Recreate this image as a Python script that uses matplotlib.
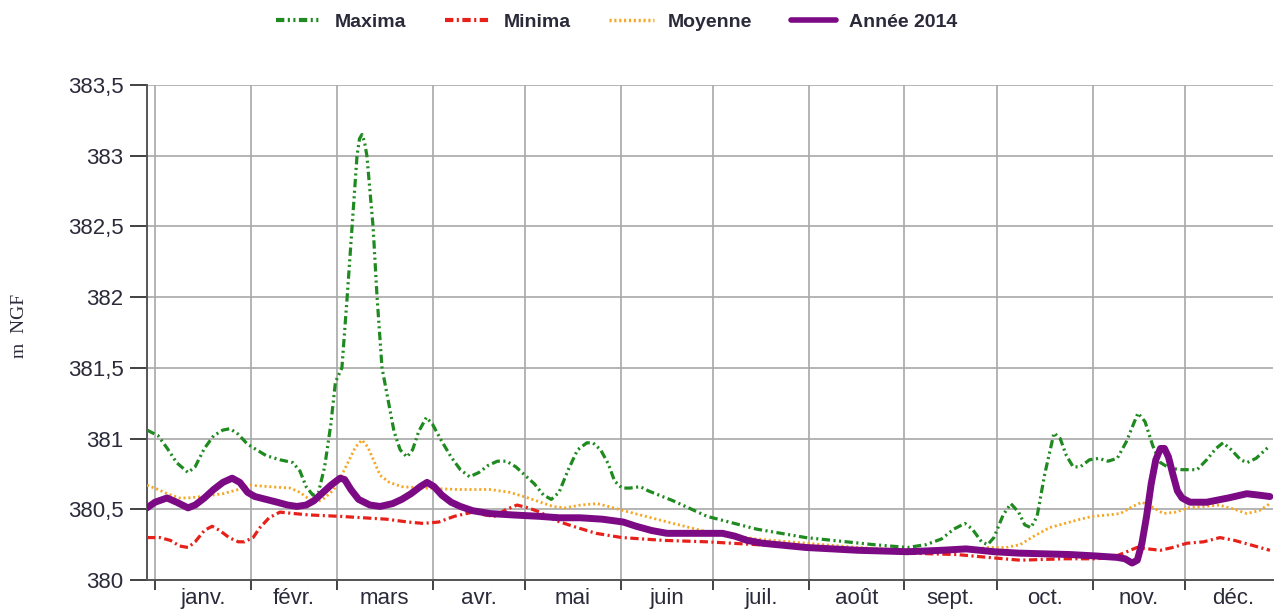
import numpy as np
import matplotlib
matplotlib.use("Agg")
from matplotlib import pyplot as plt

plt.rcParams['font.family'] = ['Liberation Sans', 'DejaVu Sans']
plt.rcParams['lines.scale_dashes'] = False

# day of year / level (m NGF)
max_days = [-2.6, 1, 4, 7, 10.7, 13, 16, 19, 22, 24.3, 27, 30, 33, 36, 40.5, 44.7, 47, 49,
            51.2, 53, 55, 57, 58.5, 60.6, 62.3, 63.9, 65.5, 66.3, 67.1, 67.9, 68.7, 70.7, 72,
            73.6, 75.6, 77.5, 79.5, 81.7, 83.5, 85.5, 88, 90, 93, 96, 99, 102, 105, 108, 111,
            114, 117, 120, 123, 126, 128.5, 131, 134, 137, 140, 142, 144.5, 147, 149, 151.4,
            154, 157.3, 160, 168, 179, 195, 211, 233, 244, 250, 255, 259, 262.6, 265, 268, 270,
            272, 275, 277.5, 280, 282, 284, 286, 288.5, 291.5, 293.5, 295.5, 297.7, 300, 303,
            306, 309, 312, 315, 318.7, 321, 323.5, 326, 329, 333, 337.9, 341, 344, 346.3, 349,
            352, 354.1, 357, 361.5]
max_vals = [381.06, 381.02, 380.93, 380.83, 380.76, 380.80, 380.93, 381.02, 381.06, 381.07,
            381.03, 380.96, 380.92, 380.88, 380.85, 380.83, 380.77, 380.66, 380.60, 380.62,
            380.80, 381.10, 381.40, 381.50, 382.0, 382.5, 383.0, 383.12, 383.15, 383.10, 383.0,
            382.5, 382.0, 381.5, 381.27, 381.05, 380.92, 380.87, 380.92, 381.05, 381.15,
            381.10, 380.98, 380.87, 380.78, 380.73, 380.76, 380.81, 380.84, 380.84, 380.80,
            380.74, 380.68, 380.60, 380.57, 380.62, 380.78, 380.92, 380.97, 380.97, 380.92,
            380.82, 380.70, 380.65, 380.65, 380.66, 380.63, 380.56, 380.45, 380.36, 380.30,
            380.25, 380.23, 380.25, 380.29, 380.36, 380.40, 380.36, 380.27, 380.25, 380.30,
            380.46, 380.54, 380.48, 380.39, 380.37, 380.45, 380.75, 381.04, 381.00, 380.88,
            380.80, 380.80, 380.85, 380.86, 380.84, 380.86, 380.98, 381.18, 381.12, 380.95,
            380.83, 380.79, 380.78, 380.78, 380.85, 380.93, 380.97, 380.92, 380.85, 380.83,
            380.86, 380.95]

min_days = [-2.6, 1.6, 5, 8, 10.7, 13, 16, 18.5, 21, 24, 27, 29, 31.8, 34, 37, 40.5, 45, 50,
            60, 75, 82, 87, 92, 97, 103, 107, 110, 114, 117.4, 121, 124.8, 130, 135.5, 143,
            151.4, 165, 179, 195, 211, 228, 244, 260, 270, 280.5, 295, 305, 310.6, 314, 318.4,
            322, 325.9, 330, 334.6, 340, 345.3, 350, 355, 361.5]
min_vals = [380.30, 380.30, 380.28, 380.24, 380.23, 380.27, 380.35, 380.38, 380.35, 380.30,
            380.27, 380.27, 380.30, 380.37, 380.44, 380.48, 380.47, 380.46, 380.45, 380.43,
            380.41, 380.40, 380.41, 380.45, 380.48, 380.46, 380.45, 380.50, 380.53, 380.51,
            380.48, 380.42, 380.38, 380.33, 380.30, 380.28, 380.27, 380.25, 380.23, 380.21,
            380.19, 380.18, 380.16, 380.14, 380.15, 380.15, 380.16, 380.19, 380.23, 380.22,
            380.21, 380.23, 380.26, 380.27, 380.30, 380.28, 380.25, 380.21]

moy_days = [-2.6, 1, 4, 8, 10.7, 15, 22, 27, 30.8, 37, 43.8, 47, 50, 52.5, 55, 58, 60.5, 63,
            65, 67.1, 69, 71, 73, 76, 80, 87, 98, 108.6, 115, 121, 125, 129, 133, 138, 143.3,
            147, 152, 157.3, 168, 179, 195, 211, 228, 244, 255, 262, 270, 276, 280.5, 285, 290,
            295, 300, 304, 309, 313, 317, 320, 323, 327, 331, 335, 340, 345, 350, 354, 358,
            361.5]
moy_vals = [380.67, 380.64, 380.61, 380.58, 380.58, 380.59, 380.61, 380.64, 380.67, 380.66,
            380.65, 380.62, 380.57, 380.55, 380.58, 380.64, 380.74, 380.85, 380.94, 380.99,
            380.94, 380.84, 380.74, 380.69, 380.66, 380.65, 380.64, 380.64, 380.62, 380.58,
            380.55, 380.52, 380.51, 380.53, 380.54, 380.52, 380.49, 380.46, 380.40, 380.34,
            380.29, 380.26, 380.23, 380.21, 380.20, 380.21, 380.23, 380.23, 380.25, 380.31,
            380.37, 380.40, 380.43, 380.45, 380.46, 380.47, 380.52, 380.55, 380.52, 380.47,
            380.48, 380.51, 380.52, 380.53, 380.50, 380.47, 380.49, 380.54]

y14_days = [-2.6, 0, 3.9, 7, 10.7, 13, 16, 19, 22, 25, 27.5, 30, 32.4, 36, 39.6, 43, 46, 49,
            51.5, 54, 57, 60, 61.5, 63.5, 66, 69.7, 73, 77, 80, 83, 86, 88.2, 90.5, 93, 96, 99,
            103, 108.6, 116, 124.8, 131, 137.8, 145, 151.8, 156, 161, 166, 175, 184, 188, 192,
            197, 211, 228, 244, 255, 263, 272, 280, 296.7, 305, 311.9, 314.5, 316.8, 318.5,
            320, 321.5, 323, 324.5, 326, 327.3, 328.6, 330, 331.5, 333, 335.6, 341, 348, 354,
            358, 361.5]
y14_vals = [380.51, 380.55, 380.58, 380.55, 380.51, 380.53, 380.58, 380.64, 380.69, 380.72,
            380.69, 380.62, 380.59, 380.57, 380.55, 380.53, 380.52, 380.53, 380.56, 380.61,
            380.67, 380.72, 380.71, 380.64, 380.57, 380.53, 380.52, 380.54, 380.57, 380.61,
            380.66, 380.69, 380.66, 380.60, 380.55, 380.52, 380.49, 380.47, 380.46, 380.45,
            380.44, 380.44, 380.43, 380.41, 380.38, 380.35, 380.33, 380.33, 380.33, 380.31,
            380.28, 380.26, 380.23, 380.21, 380.20, 380.21, 380.22, 380.20, 380.19, 380.18,
            380.17, 380.16, 380.15, 380.12, 380.14, 380.26, 380.45, 380.68, 380.85, 380.93,
            380.93, 380.87, 380.75, 380.63, 380.58, 380.55, 380.55, 380.58, 380.61, 380.60,
            380.59]

months = ['janv.', 'févr.', 'mars', 'avr.', 'mai', 'juin', 'juil.', 'août', 'sept.', 'oct.',
          'nov.', 'déc.']
month_len = [31, 28, 31, 30, 31, 30, 31, 31, 30, 31, 30, 31]
month_start = np.concatenate([[0], np.cumsum(month_len)[:-1]])
month_mid = month_start + np.array(month_len) / 2

fig = plt.figure(figsize=(12.74, 6.14), dpi=100)
ax = fig.add_axes([147 / 1274, 1 - 580 / 614, (1273 - 147) / 1274, (580 - 85) / 614])

ax.plot(max_days, max_vals, color='#1f8a1f', lw=2.3, dashes=(6, 2.5, 1.5, 2.5, 1.5, 2.5),
        label='Maxima', zorder=3)
ax.plot(min_days, min_vals, color='#e8201a', lw=2.3, dashes=(6, 2.5, 1.5, 2.5),
        label='Minima', zorder=3)
ax.plot(moy_days, moy_vals, color='#f5a623', lw=2.0, dashes=(1.5, 2),
        label='Moyenne', zorder=3)
ax.plot(y14_days, y14_vals, color='#7b0a84', lw=5.0, solid_joinstyle='round',
        solid_capstyle='round', label='Année 2014', zorder=4)

ax.set_xlim(-2.6, 362.5)
ax.set_ylim(380, 383.5)
ax.set_yticks(np.arange(380, 383.51, 0.5))
ax.set_yticklabels([('%g' % v).replace('.', ',') for v in np.arange(380, 383.51, 0.5)])

ax.set_xticks(month_start)
ax.set_xticklabels([])
ax.set_xticks(month_mid, minor=True)
ax.set_xticklabels(months, minor=True)
ax.tick_params(axis='x', which='major', length=7, width=1.3, color='#333333')
ax.tick_params(axis='x', which='minor', length=0, pad=6, labelsize=16, labelcolor='#2a2a3a')
ax.tick_params(axis='y', length=12, width=1.3, color='#333333', pad=5, labelsize=16,
               labelcolor='#2a2a3a')

ax.grid(True, which='major', color='#a8a8a8', lw=1.2)
ax.set_axisbelow(True)
for s in ['top', 'right']:
    ax.spines[s].set_visible(False)
for s in ['left', 'bottom']:
    ax.spines[s].set_color('#555555')
    ax.spines[s].set_linewidth(1.4)

fig.text(20 / 1274, 1 - 326 / 614, 'm  NGF', rotation=90, ha='center', va='center',
         fontsize=14, family=['Liberation Serif', 'DejaVu Serif'], color='#2a2a3a')

leg = fig.legend(loc='center', bbox_to_anchor=(617 / 1274, 1 - 22 / 614), ncol=4,
                 frameon=False, handlelength=2.3, handletextpad=0.7, columnspacing=2.0,
                 prop={'weight': 'bold', 'size': 14})
for t in leg.get_texts():
    t.set_color('#2a2a3a')
for ln, w in zip(leg.get_lines(), [3.0, 3.0, 2.5, 4.0]):
    ln.set_linewidth(w)

fig.savefig('out.png', dpi=100)
